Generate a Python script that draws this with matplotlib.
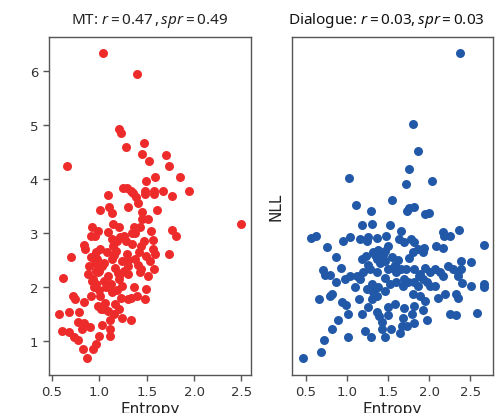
import numpy as np
from matplotlib import pyplot as plt

plt.rcParams['mathtext.fontset'] = 'custom'
plt.rcParams['mathtext.rm'] = 'Noto Sans'
plt.rcParams['mathtext.it'] = 'Noto Sans:italic'

# MT: entropy vs NLL
mt_entropy = [1.04, 1.40, 1.21, 1.23, 1.28, 1.47, 1.45, 1.52, 1.70, 1.74, 0.66, 1.59, 1.85, 1.49,
              1.95, 1.25, 1.29, 1.33, 1.36, 1.39, 1.41, 1.48, 1.48, 1.58, 1.58, 1.67, 1.77, 1.09,
              1.30, 1.10, 1.13, 1.01, 1.45, 1.61, 1.51, 1.45, 1.14, 1.21, 0.92, 0.99, 1.09, 1.37,
              1.43, 1.38, 1.54, 1.77, 1.81, 0.91, 0.95, 0.84, 0.85, 1.13, 1.22, 1.28, 1.34, 1.47,
              1.57, 1.57, 1.59, 1.73, 0.70, 1.01, 1.08, 1.18, 1.29, 1.42, 1.49, 0.91, 0.98, 1.13,
              1.24, 1.38, 1.53, 0.89, 1.03, 1.17, 1.30, 1.44, 1.58, 0.88, 0.99, 1.09, 1.22, 1.30,
              1.43, 1.51, 0.62, 0.92, 1.05, 1.21, 0.94, 1.11, 1.24, 1.37, 1.49, 0.91, 1.01, 1.13,
              0.72, 0.74, 0.84, 1.30, 1.40, 1.48, 1.33, 0.99, 1.04, 1.09, 1.17, 1.21, 1.24, 1.33,
              0.57, 0.68, 0.79, 0.78, 0.84, 0.82, 0.90, 1.03, 1.11, 1.11, 1.11, 0.61, 0.68, 0.73,
              0.77, 0.83, 0.93, 0.96, 1.00, 0.87, 2.49,
              0.95, 0.97, 1.05, 1.15, 1.19, 1.26, 1.30, 1.41, 1.44, 0.93, 0.96, 1.00, 1.19, 1.23,
              1.06, 1.02, 1.16, 1.12, 1.20, 1.07, 0.96, 1.00, 1.14, 1.26, 1.34]
mt_nll = [6.33, 5.95, 4.93, 4.86, 4.59, 4.67, 4.46, 4.33, 4.45, 4.25, 4.25, 4.04, 4.03, 3.97,
          3.77, 3.84, 3.84, 3.78, 3.74, 3.66, 3.56, 3.78, 3.72, 3.78, 3.72, 3.77, 3.69, 3.71,
          3.49, 3.49, 3.37, 3.43, 3.38, 3.43, 3.25, 3.25, 3.17, 3.12, 3.11, 3.03, 3.02, 3.11,
          3.11, 3.00, 3.04, 3.06, 2.94, 2.94, 2.95, 2.77, 2.70, 2.89, 2.92, 2.86, 2.80, 2.85,
          2.87, 2.70, 2.61, 2.61, 2.55, 2.70, 2.64, 2.67, 2.61, 2.64, 2.58, 2.55, 2.52, 2.52,
          2.49, 2.52, 2.49, 2.39, 2.39, 2.36, 2.39, 2.33, 2.33, 2.24, 2.27, 2.21, 2.24, 2.24,
          2.27, 2.20, 2.16, 2.11, 2.11, 2.14, 1.99, 1.99, 2.02, 1.99, 1.96, 1.84, 1.84, 1.90,
          1.84, 1.78, 1.72, 1.78, 1.84, 1.78, 1.79, 1.65, 1.59, 1.56, 1.68, 1.59, 1.42, 1.39,
          1.49, 1.53, 1.53, 1.35, 1.33, 1.23, 1.26, 1.30, 1.39, 1.23, 1.09, 1.18, 1.16, 1.07,
          1.01, 0.85, 0.85, 0.94, 1.09, 0.68, 3.17,
          2.45, 2.30, 2.45, 2.60, 2.85, 2.30, 2.50, 2.40, 2.75, 2.15, 2.05, 1.95, 1.95, 1.80,
          1.70, 1.60, 1.50, 2.05, 2.25, 2.00, 2.65, 2.30, 2.75, 2.95, 3.00]

# Dialogue: entropy vs NLL
dlg_entropy = [2.38, 1.81, 1.86, 1.76, 1.72, 2.03, 1.02, 1.55, 1.11, 1.29, 1.73, 1.75, 1.82, 1.95,
               2.00, 1.18, 1.30, 1.52, 0.56, 0.62, 0.76, 0.95, 1.03, 1.16, 1.24, 1.25, 1.36, 1.47,
               1.66, 1.63, 1.70, 1.78, 1.82, 2.17, 2.18, 2.25, 2.36, 2.67, 2.08, 2.17, 0.87, 1.18,
               1.23, 1.32, 1.38, 1.46, 1.36, 1.46, 1.75, 1.80, 1.86, 1.92, 1.94, 0.71, 0.73, 0.79,
               0.92, 0.86, 0.97, 1.03, 1.12, 1.16, 1.20, 1.28, 1.36, 1.46, 1.50, 1.56, 1.60, 1.66,
               1.72, 1.70, 1.82, 1.89, 1.95, 2.01, 2.07, 2.13, 2.17, 2.23, 2.29, 2.35, 2.39, 2.51,
               2.39, 2.35, 2.40, 2.51, 2.67, 2.67, 1.82, 1.86, 1.92, 2.01, 2.07, 2.20, 2.11, 2.33,
               2.35, 1.68, 1.74, 1.80, 1.89, 1.95, 1.24, 1.32, 1.38, 1.46, 1.30, 1.36, 1.26, 0.81,
               0.79, 0.66, 0.94, 0.99, 1.14, 1.50, 1.59, 1.69, 1.82, 1.92, 1.01, 1.18, 1.37, 1.39,
               1.50, 1.68, 1.79, 1.98, 2.26, 2.33, 2.59, 0.89, 0.82, 0.72, 0.68, 0.46, 1.01, 1.22,
               1.29, 1.46, 1.42, 1.42, 1.53, 1.65, 1.67, 1.73, 1.82,
               1.40, 1.44, 1.55, 1.58, 1.62, 1.26, 1.31, 1.10, 1.52, 1.60, 1.88, 1.98, 1.34, 1.50]
dlg_nll = [6.33, 5.02, 4.52, 4.18, 3.91, 3.96, 4.01, 3.62, 3.51, 3.41, 3.41, 3.46, 3.49, 3.35,
           3.37, 3.15, 3.16, 3.15, 2.90, 2.94, 2.74, 2.85, 2.93, 2.88, 2.85, 2.93, 2.91, 2.95,
           3.03, 2.89, 2.84, 2.89, 2.83, 3.01, 2.94, 2.95, 3.06, 2.78, 2.76, 2.72, 2.56, 2.51,
           2.58, 2.64, 2.69, 2.67, 2.52, 2.49, 2.54, 2.64, 2.70, 2.64, 2.73, 2.32, 2.23, 2.23,
           2.35, 2.10, 2.15, 2.21, 2.21, 2.15, 2.27, 2.33, 2.27, 2.16, 2.33, 2.36, 2.27, 2.33,
           2.33, 2.15, 2.33, 2.24, 2.36, 2.27, 2.33, 2.27, 2.21, 2.39, 2.33, 2.27, 2.49, 2.46,
           2.33, 2.21, 2.07, 2.01, 2.06, 2.00, 2.09, 2.02, 2.15, 2.02, 2.02, 1.87, 1.80, 1.87,
           1.80, 2.02, 2.09, 1.87, 1.84, 1.74, 1.96, 1.90, 1.99, 1.92, 1.78, 1.84, 1.62, 1.87,
           1.84, 1.78, 1.73, 1.67, 1.78, 1.62, 1.69, 1.61, 1.64, 1.58, 1.49, 1.49, 1.53, 1.47,
           1.48, 1.42, 1.49, 1.38, 1.49, 1.48, 1.51, 1.39, 1.22, 1.01, 0.79, 0.68, 1.07, 1.19,
           1.07, 1.07, 1.35, 1.22, 1.22, 1.14, 1.28, 1.28, 1.33,
           2.45, 2.60, 2.55, 2.40, 2.50, 2.40, 2.05, 2.00, 2.05, 2.10, 2.20, 2.10, 2.60, 2.75]

spine_col = '#555555'

fig = plt.figure(figsize=(4.96, 4.14), dpi=100)
ax1 = fig.add_axes([0.098, 0.092, 0.408, 0.816])
ax2 = fig.add_axes([0.589, 0.092, 0.405, 0.816])

ax1.scatter(mt_entropy, mt_nll, s=42, color='#EE2B2B', linewidths=0, zorder=3)
ax2.scatter(dlg_entropy, dlg_nll, s=42, color='#2159A8', linewidths=0, zorder=3)

ax1.set_xlim(0.465, 2.60)
ax2.set_xlim(0.33, 2.78)
for ax in (ax1, ax2):
    ax.set_ylim(0.37, 6.63)
    ax.set_xticks([0.5, 1.0, 1.5, 2.0, 2.5])
    ax.set_xlabel("Entropy", fontsize=11, color='#222222', labelpad=2)
    for sp in ax.spines.values():
        sp.set_color(spine_col)
        sp.set_linewidth(1.0)
    ax.tick_params(colors='#333333', labelsize=9.5, length=4, width=1, direction='out')
    ax.tick_params(axis='both', color=spine_col)

ax1.set_yticks([1, 2, 3, 4, 5, 6])
ax2.set_yticks([])
ax2.set_ylabel("NLL", fontsize=11, color='#222222', labelpad=6)

ax1.set_title("MT: $r = 0.47\\,,spr = 0.49$", fontsize=11, color='#222222', pad=10,
              family='Noto Sans')
ax2.set_title("Dialogue: $r = 0.03, spr = 0.03$", fontsize=11, color='#111111', pad=10,
              family='Noto Sans', x=0.47)

plt.savefig("out.png", dpi=100)
